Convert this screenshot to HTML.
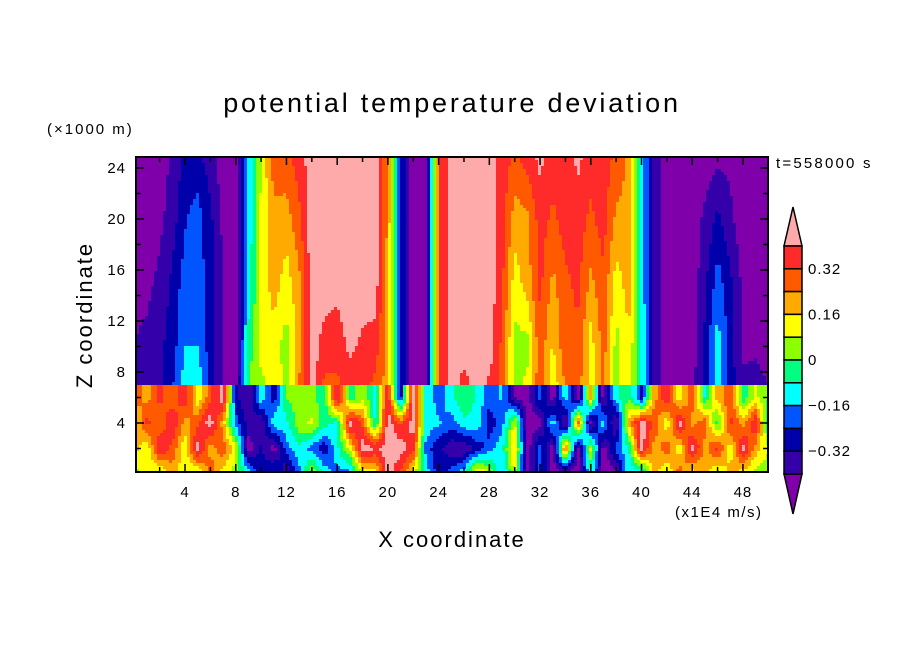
<!DOCTYPE html>
<html><head><meta charset="utf-8"><style>
body{margin:0;background:#fff;}
svg{display:block;font-family:"Liberation Sans",sans-serif;}
</style></head><body>
<svg id="chart" width="904" height="654" viewBox="0 0 904 654" xmlns="http://www.w3.org/2000/svg">
<rect width="904" height="654" fill="#fff"/>
<g id="cells"></g>
<g id="axes"></g>
<g id="cbar"></g>
<text x="452" y="112" font-size="27" text-anchor="middle" letter-spacing="2.8">potential temperature deviation</text>
<text x="47" y="134" font-size="15" letter-spacing="2">(×1000 m)</text>
<text x="776" y="168" font-size="15" letter-spacing="2.2">t=558000 s</text>
<text x="675" y="517" font-size="15" letter-spacing="1.5">(x1E4 m/s)</text>
<text x="452" y="547" font-size="22" text-anchor="middle" letter-spacing="2">X coordinate</text>
<text transform="translate(92,315) rotate(-90)" font-size="22" text-anchor="middle" letter-spacing="2">Z coordinate</text>
</svg>
<script>
const xCoords=[0,1,2,3,4,5,6,7,8,9,10,11,12,13,14,15,16,17,18,19,20,21,22,23,24,25,26,27,28,29,30,31,32,33,34,35,36,37,38,39,40,41,42,43,44,45,46,47,48,49,50];
const upperZ=[24.9,20,15,10,7];
const upperValues=[
[-.45,-.45,-.45,-.38,-.3,-.3,-.36,-.45,-.45,-.15,.08,.28,.3,.36,.45,.45,.45,.45,.45,.45,.22,-.25,-.45,-.45,.3,.45,.45,.45,.45,.37,.3,.36,.42,.36,.36,.42,.36,.36,.3,.22,-.1,-.36,-.45,-.45,-.45,-.45,-.42,-.42,-.45,-.45,-.45],
[-.45,-.45,-.42,-.36,-.25,-.2,-.3,-.42,-.45,-.15,.1,.22,.2,.3,.45,.45,.45,.45,.45,.45,.22,-.25,-.45,-.45,.3,.45,.45,.45,.45,.36,.2,.22,.36,.3,.36,.36,.3,.36,.22,.22,-.1,-.36,-.45,-.45,-.45,-.38,-.3,-.38,-.45,-.45,-.45],
[-.42,-.42,-.38,-.3,-.2,-.2,-.28,-.4,-.45,-.12,.1,.2,.12,.22,.45,.45,.42,.45,.45,.45,.2,-.25,-.45,-.45,.3,.45,.45,.45,.45,.34,.12,.2,.34,.22,.3,.34,.22,.3,.12,.2,-.1,-.36,-.45,-.45,-.45,-.34,-.2,-.3,-.42,-.45,-.45],
[-.4,-.38,-.34,-.28,-.16,-.16,-.28,-.4,-.45,-.05,.12,.12,.04,.2,.45,.36,.36,.42,.38,.36,.2,-.25,-.45,-.45,.3,.45,.45,.45,.45,.3,.05,.05,.3,.15,.3,.3,.12,.28,.05,.15,-.1,-.34,-.45,-.45,-.45,-.3,-.12,-.28,-.42,-.42,-.45],
[-.38,-.38,-.34,-.25,-.12,-.1,-.28,-.4,-.45,0,.05,.15,.05,.25,.45,.3,.3,.36,.36,.3,.2,-.25,-.45,-.45,.3,.45,.36,.45,.38,.3,.05,.1,.3,.1,.25,.28,.12,.25,.05,.15,-.1,-.34,-.45,-.45,-.42,-.3,-.1,-.28,-.38,-.36,-.4]];
const lowerZ=[7,6,4,2,0];
const lowerValues=[
[.3,.2,.35,.25,.4,.1,.3,.45,-.3,-.4,-.1,-.3,0,.05,.02,-.05,.45,-.05,.05,-.1,.4,-.3,.45,-.1,-.2,-.1,0,-.1,-.2,-.15,-.4,-.45,-.2,-.45,-.1,-.45,.2,-.45,-.1,0,-.3,.2,.4,.1,.3,-.1,.2,.3,-.05,.1,0],
[.3,.2,.35,.25,.4,.1,.3,.45,-.3,-.4,-.1,-.3,0,.05,.02,-.05,.45,-.05,.05,-.1,.4,-.3,.45,-.1,-.2,-.1,0,-.1,-.2,-.15,-.4,-.45,-.2,-.45,-.1,-.45,.2,-.45,-.1,0,-.3,.2,.4,.1,.3,-.1,.2,.3,-.05,.1,0],
[.1,.35,.25,.4,.2,.3,.45,.2,-.2,-.35,-.4,-.1,-.1,.05,.1,-.05,-.1,.45,.3,-.1,.45,.3,.45,-.1,-.15,-.2,-.1,-.1,-.3,-.2,.1,-.45,-.45,-.1,-.45,.3,-.45,-.1,-.45,.2,.45,.3,.1,.45,.2,.3,-.05,.35,.2,.4,-.1],
[.2,.1,.4,.3,.1,.45,.2,.3,.1,-.45,-.3,-.45,-.2,-.1,-.2,-.3,-.1,.1,.45,.4,.45,.45,.35,-.2,-.3,-.38,-.4,-.3,-.2,-.1,.2,-.45,-.2,-.45,.3,-.45,.1,-.45,-.2,-.1,.45,.2,.3,.1,.45,.2,.35,.1,.45,.2,.1],
[.05,.1,.05,.2,.1,.05,.3,.1,.05,-.1,-.3,-.2,-.4,-.2,.1,-.1,-.2,-.2,.1,.1,.45,.3,.1,-.1,-.3,-.2,-.1,.2,.1,-.2,.1,-.45,-.2,-.45,-.45,-.45,-.1,-.45,-.45,-.1,-.2,.2,.05,.3,.1,.2,.05,.2,.1,.05,0]];
const levels=[-0.40,-0.32,-0.24,-0.16,-0.08,0,0.08,0.16,0.24,0.32,0.40];
const colors=["#7f00aa","#3300aa","#0000aa","#0055ff","#00ffff","#00ff80","#8cff00","#ffff00","#ffaa00","#ff5a00","#ff2a2a","#ffaaaa"];
const xTicks=[4,8,12,16,20,24,28,32,36,40,44,48];
const yTicks=[4,8,12,16,20,24];
const cbLabels=["0.32","0.16","0","\u22120.16","\u22120.32"];
const cbLabelVals=[0.32,0.16,0,-0.16,-0.32];

const NS="http://www.w3.org/2000/svg";
const X0=136,X1=768,Y0=157,Y1=472;
const sx=v=>134.3+v*12.68;
const sy=v=>474-v*12.75;
const col=v=>{let i=0;while(i<levels.length&&v>=levels[i])i++;return colors[i];};
function interp(zs,rows,x,z){
  let r=0;while(r<zs.length-2&&z<zs[r+1])r++;
  let tz=(zs[r]-z)/(zs[r]-zs[r+1]);tz=Math.max(0,Math.min(1,tz));
  let c=Math.floor(x);if(c<0)c=0;if(c>=xCoords.length-1)c=xCoords.length-2;
  let tx=Math.max(0,Math.min(1,x-c));
  const a=rows[r][c]*(1-tx)+rows[r][c+1]*tx;
  const b=rows[r+1][c]*(1-tx)+rows[r+1][c+1]*tx;
  return a*(1-tz)+b*tz;
}
const cellsG=document.getElementById('cells');
const step=3;
const yb=sy(7);
for(let py=Y0;py<Y1;py+=step){
  for(let px=X0;px<X1;px+=step){
    const x=(px+step/2-134.3)/12.68, z=(474-(py+step/2))/12.75;
    const v=(py+step/2<yb)?interp(upperZ,upperValues,x,z):interp(lowerZ,lowerValues,x,z);
    const r=document.createElementNS(NS,'rect');
    r.setAttribute('x',px);r.setAttribute('y',py);
    r.setAttribute('width',Math.min(step,X1-px)+0.3);r.setAttribute('height',Math.min(step,Y1-py)+0.3);
    r.setAttribute('fill',col(v));
    
    
    cellsG.appendChild(r);
  }
}
const axesG=document.getElementById('axes');
function add(parent,tag,attrs,text){const e=document.createElementNS(NS,tag);for(const k in attrs)e.setAttribute(k,attrs[k]);if(text!==undefined)e.textContent=text;parent.appendChild(e);return e;}
const frame=add(axesG,'rect',{x:X0,y:Y0,width:X1-X0,height:Y1-Y0,fill:'none',stroke:'#000','stroke-width':2});


for(let v=2;v<50;v+=2){
  const x=sx(v),len=v%4===0?8:5;
  add(axesG,'line',{x1:x,x2:x,y1:Y1,y2:Y1-len,stroke:'#000','stroke-width':1.5});
  add(axesG,'line',{x1:x,x2:x,y1:Y0,y2:Y0+len,stroke:'#000','stroke-width':1.5});
}
for(let v=2;v<=24;v+=2){
  const y=sy(v),len=v%4===0?8:5;
  add(axesG,'line',{x1:X0,x2:X0+len,y1:y,y2:y,stroke:'#000','stroke-width':1.5});
  add(axesG,'line',{x1:X1,x2:X1-len,y1:y,y2:y,stroke:'#000','stroke-width':1.5});
}
xTicks.forEach(v=>{
  const t=add(axesG,'text',{x:sx(v),y:497,'font-size':15,'text-anchor':'middle','letter-spacing':1},String(v));
  
  
});
yTicks.forEach(v=>{
  const t=add(axesG,'text',{x:126,y:sy(v)+5,'font-size':15,'text-anchor':'end','letter-spacing':1},String(v));
  
  
});
const cbG=document.getElementById('cbar');
const CX0=784,CX1=802,CT=246,CB=474,bh=(CB-CT)/10;
const cbTop=add(cbG,'polygon',{points:`${CX0},${CT} ${CX1},${CT} ${(CX0+CX1)/2},207`,fill:colors[11],stroke:'#000','stroke-width':1.5});


const cbBot=add(cbG,'polygon',{points:`${CX0},${CB} ${CX1},${CB} ${(CX0+CX1)/2},514`,fill:colors[0],stroke:'#000','stroke-width':1.5});


for(let i=0;i<10;i++){
  const r=add(cbG,'rect',{x:CX0,y:CT+i*bh,width:CX1-CX0,height:bh,fill:colors[10-i],stroke:'#000','stroke-width':1.5});
  
  
}
const cy=v=>CT+(0.40-v)/0.08*bh;
cbLabels.forEach((s,i)=>{
  const t=add(cbG,'text',{x:808,y:cy(cbLabelVals[i])+5,'font-size':15,'letter-spacing':1},s);
  
  
});
</script>
</body></html>
